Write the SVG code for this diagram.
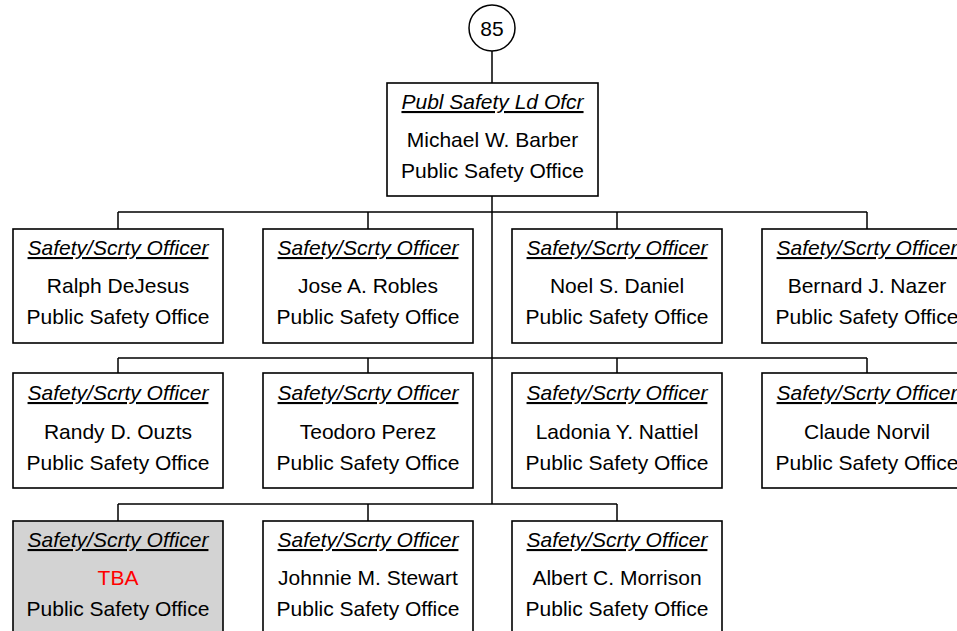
<svg xmlns="http://www.w3.org/2000/svg" width="957" height="631" viewBox="0 0 957 631">
<style>
.box{fill:#fff;stroke:#000;stroke-width:1.6}
.vac{fill:#d3d3d3;stroke:#000;stroke-width:1.6}
.t{font-family:"Liberation Sans",Arial,sans-serif;font-size:21px;fill:#000;text-anchor:middle}
.ti{font-style:italic;text-decoration:underline}
.red{fill:#ff0000}
.c{fill:none;stroke:#000;stroke-width:1.5}
</style>
<rect width="957" height="631" fill="#fff"/>
<g id="connectors">
<path class="c" d="M492 51V83M492 196V504M118 212H867M118 212V229M368 212V229M617 212V229M867 212V229M118 358H867M118 358V373M368 358V373M617 358V373M867 358V373M118 504H617M118 504V521M368 504V521M617 504V521"/>
</g>
<g id="n85">
<circle cx="492" cy="28" r="23" fill="#fff" stroke="#000" stroke-width="1.5"/>
<text class="t" x="492" y="36" font-size="20">85</text>
</g>
<g id="barber">
<rect class="box" x="387" y="83" width="211" height="113"/>
<text class="t ti" x="492.5" y="109">Publ Safety Ld Ofcr</text>
<text class="t" x="492.5" y="147">Michael W. Barber</text>
<text class="t" x="492.5" y="178">Public Safety Office</text>
</g>
<g id="dejesus">
<rect class="box" x="13" y="229" width="210" height="114"/>
<text class="t ti" x="118" y="255">Safety/Scrty Officer</text>
<text class="t" x="118" y="293">Ralph DeJesus</text>
<text class="t" x="118" y="324">Public Safety Office</text>
</g>
<g id="robles">
<rect class="box" x="263" y="229" width="210" height="114"/>
<text class="t ti" x="368" y="255">Safety/Scrty Officer</text>
<text class="t" x="368" y="293">Jose A. Robles</text>
<text class="t" x="368" y="324">Public Safety Office</text>
</g>
<g id="daniel">
<rect class="box" x="512" y="229" width="210" height="114"/>
<text class="t ti" x="617" y="255">Safety/Scrty Officer</text>
<text class="t" x="617" y="293">Noel S. Daniel</text>
<text class="t" x="617" y="324">Public Safety Office</text>
</g>
<g id="nazer">
<rect class="box" x="762" y="229" width="210" height="114"/>
<text class="t ti" x="867" y="255">Safety/Scrty Officer</text>
<text class="t" x="867" y="293">Bernard J. Nazer</text>
<text class="t" x="867" y="324">Public Safety Office</text>
</g>
<g id="ouzts">
<rect class="box" x="13" y="373" width="210" height="115"/>
<text class="t ti" x="118" y="400">Safety/Scrty Officer</text>
<text class="t" x="118" y="439">Randy D. Ouzts</text>
<text class="t" x="118" y="470">Public Safety Office</text>
</g>
<g id="perez">
<rect class="box" x="263" y="373" width="210" height="115"/>
<text class="t ti" x="368" y="400">Safety/Scrty Officer</text>
<text class="t" x="368" y="439">Teodoro Perez</text>
<text class="t" x="368" y="470">Public Safety Office</text>
</g>
<g id="nattiel">
<rect class="box" x="512" y="373" width="210" height="115"/>
<text class="t ti" x="617" y="400">Safety/Scrty Officer</text>
<text class="t" x="617" y="439">Ladonia Y. Nattiel</text>
<text class="t" x="617" y="470">Public Safety Office</text>
</g>
<g id="norvil">
<rect class="box" x="762" y="373" width="210" height="115"/>
<text class="t ti" x="867" y="400">Safety/Scrty Officer</text>
<text class="t" x="867" y="439">Claude Norvil</text>
<text class="t" x="867" y="470">Public Safety Office</text>
</g>
<g id="tba">
<rect class="vac" x="13" y="521" width="210" height="115"/>
<text class="t ti" x="118" y="547">Safety/Scrty Officer</text>
<text class="t red" x="118" y="585">TBA</text>
<text class="t" x="118" y="616">Public Safety Office</text>
</g>
<g id="stewart">
<rect class="box" x="263" y="521" width="210" height="115"/>
<text class="t ti" x="368" y="547">Safety/Scrty Officer</text>
<text class="t" x="368" y="585">Johnnie M. Stewart</text>
<text class="t" x="368" y="616">Public Safety Office</text>
</g>
<g id="morrison">
<rect class="box" x="512" y="521" width="210" height="115"/>
<text class="t ti" x="617" y="547">Safety/Scrty Officer</text>
<text class="t" x="617" y="585">Albert C. Morrison</text>
<text class="t" x="617" y="616">Public Safety Office</text>
</g>
</svg>
